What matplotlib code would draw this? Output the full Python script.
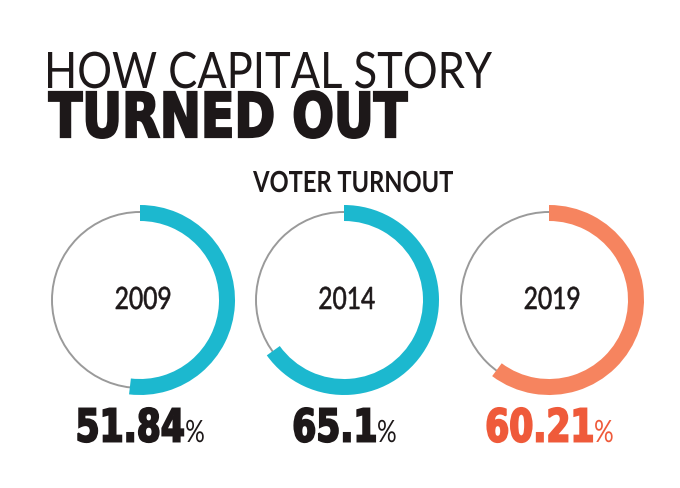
import matplotlib
matplotlib.use("Agg")
import matplotlib.pyplot as plt
from matplotlib.patches import Wedge, Circle, PathPatch
from matplotlib.textpath import TextPath
from matplotlib.font_manager import FontProperties
from matplotlib.transforms import Affine2D

# data
years = ["2009", "2014", "2019"]
turnout = [51.84, 65.1, 60.21]
ring_colors = ["#1cb8cf", "#1cb8cf", "#f6845f"]
label_colors = ["#1d1819", "#1d1819", "#ef5a3a"]

W, H = 680, 488


def measure(s, cap, family, weight):
    fp = FontProperties(family=family, weight=weight)
    tp = TextPath((0, 0), s, size=100, prop=fp)
    cap100 = TextPath((0, 0), "H", size=100, prop=fp).get_extents().y1
    return tp.get_extents().width * cap / cap100


def put_text(ax, s, x, baseline, cap, cond=1.0, width=None, family="Lato",
             weight="normal", color="#1d1819", ha="left", stroke=0):
    """Draw text as a path so it can be squeezed horizontally. Returns right edge."""
    fp = FontProperties(family=family, weight=weight)
    tp = TextPath((0, 0), s, size=100, prop=fp)
    cap100 = TextPath((0, 0), "H", size=100, prop=fp).get_extents().y1
    sy = cap / cap100
    bb = tp.get_extents()
    sx = width / bb.width if width else sy * cond
    w = bb.width * sx
    if ha == "center":
        x0 = x - w / 2
    elif ha == "right":
        x0 = x - w
    else:
        x0 = x
    tr = Affine2D().translate(-bb.x0, 0).scale(sx, sy).translate(x0, H - baseline)
    ax.add_patch(PathPatch(tr.transform_path(tp), fc=color,
                           ec=color if stroke else "none", lw=stroke,
                           joinstyle="miter"))
    return x0 + w


fig = plt.figure(figsize=(W / 100, H / 100), dpi=100)
ax = fig.add_axes([0, 0, 1, 1])
ax.set_xlim(0, W)
ax.set_ylim(0, H)
ax.axis("off")

# titles
put_text(ax, "HOW CAPITAL STORY", 48, 88, 36, width=444, weight="normal")
put_text(ax, "TURNED OUT", 49, 137, 45, width=358, family="DejaVu Sans",
         weight="bold", stroke=1.6)
put_text(ax, "VOTER TURNOUT", 353, 192, 21, width=200, weight="bold", ha="center")

centers = [140, 344, 549]
cy = H - 300
r_out, ring_w, r_grey = 95, 16, 88

# squeeze factor for the big numbers, set so "51.84" is ~107 px wide
num_font = "DejaVu Sans"
num_cond = 105 / measure("51.84", 33, num_font, "bold")
pct_cond = 0.8

for cx, yr, val, rc, lc in zip(centers, years, turnout, ring_colors, label_colors):
    ax.add_patch(Circle((cx, cy), r_grey, fill=False, ec="#9a9a9a", lw=1.4))
    ax.add_patch(Wedge((cx, cy), r_out, 90 - 360 * val / 100, 90,
                       width=ring_w, fc=rc, ec="none"))
    put_text(ax, yr, cx + 3, 309, 22, cond=0.80, weight="normal", ha="center",
             stroke=0.4)

    # percentage label: heavy number + light %
    num = str(val)
    wn = measure(num, 33, num_font, "bold") * num_cond
    wp = measure("%", 22, "Lato", "normal") * pct_cond
    x0 = cx + 1 - (wn + 3 + wp) / 2
    xr = put_text(ax, num, x0, 441.5, 33, cond=num_cond, family=num_font,
                  weight="bold", color=lc, stroke=1.4)
    put_text(ax, "%", xr + 3, 442, 22, cond=pct_cond, weight="normal", color=lc)

fig.savefig("out.png", dpi=100, facecolor="white")
